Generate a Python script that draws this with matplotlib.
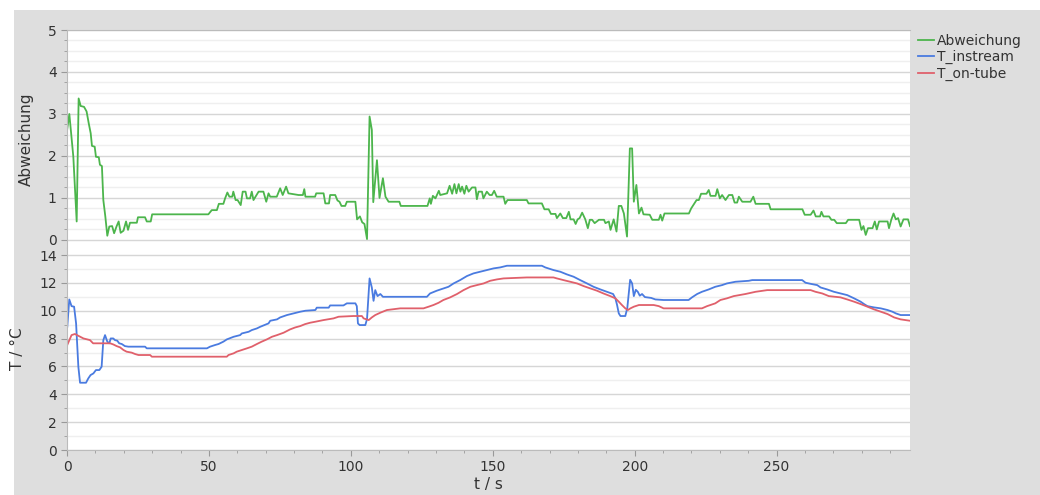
import matplotlib
matplotlib.use("Agg")
import matplotlib.pyplot as plt
from matplotlib.patches import Rectangle
from matplotlib.ticker import MultipleLocator

# ---- data ----
t_abw = [0.0, 0.82, 2.23, 3.41, 4.1, 4.82, 6.0, 6.9, 7.65, 8.35, 8.8, 9.76, 10.2, 11.2, 11.6, 12.3,
         12.8, 13.5, 14.2, 14.9, 15.9, 16.6, 17.5, 18.2, 18.9, 19.9, 20.8, 21.5, 22.2, 24.6, 25.0,
         27.5, 28.1, 29.5, 30.0, 49.8, 51.0, 52.8, 53.5, 55.1, 55.7, 56.5, 57.2, 58.2, 58.6, 59.4,
         60.1, 61.2, 61.9, 62.9, 63.4, 64.5, 65.1, 65.7, 67.5, 69.2, 70.2, 71.0, 71.6, 73.9, 75.1,
         76.0, 77.2, 78.0, 81.6, 83.1, 83.6, 84.0, 87.4, 87.8, 90.4, 91.0, 92.3, 92.7, 94.5, 95.3,
         96.0, 96.7, 98.0, 98.6, 101.6, 102.2, 103.2, 104.0, 104.8, 105.7, 106.6, 107.4, 107.9,
         109.2, 110.1, 111.3, 112.2, 113.3, 117.1, 117.6, 127.0, 127.8, 128.2, 128.9, 129.8, 131.0,
         131.5, 133.9, 134.8, 135.7, 136.5, 137.2, 138.0, 138.6, 139.2, 140.0, 140.7, 141.5, 142.7,
         143.9, 144.4, 145.0, 146.2, 146.7, 147.9, 148.9, 149.7, 150.5, 151.4, 153.8, 154.4, 155.2,
         162.0, 162.6, 167.3, 168.2, 169.7, 170.5, 172.1, 172.6, 173.8, 174.7, 175.9, 176.8, 177.4,
         178.5, 179.2, 179.9, 180.6, 181.5, 182.6, 183.5, 184.2, 185.0, 185.9, 187.4, 189.2, 189.7,
         190.9, 191.5, 192.6, 193.6, 194.4, 195.3, 196.2, 197.3, 198.3, 199.1, 199.7, 200.6, 201.5,
         202.4, 203.1, 205.3, 206.2, 208.5, 209.1, 209.7, 210.5, 219.1, 219.9, 221.8, 222.6, 223.4,
         225.3, 226.1, 226.7, 228.5, 229.1, 230.0, 230.8, 232.0, 233.2, 234.4, 235.2, 236.1, 236.7,
         237.9, 240.8, 241.8, 242.6, 247.3, 247.9, 259.1, 259.9, 262.0, 263.0, 263.8, 265.3, 265.8,
         266.5, 268.5, 269.3, 270.3, 271.2, 274.4, 275.2, 279.1, 279.9, 280.6, 281.4, 282.2, 283.8,
         284.6, 285.3, 286.1, 289.1, 289.6, 290.4, 291.2, 292.0, 292.8, 293.7, 294.7, 296.3, 297.0]
abweichung = [2.6, 3.0, 1.98, 0.44, 3.37, 3.19, 3.17, 3.06, 2.78, 2.54, 2.24, 2.22, 1.98, 1.97, 1.79, 1.76,
              0.95, 0.56, 0.10, 0.32, 0.33, 0.16, 0.33, 0.44, 0.17, 0.22, 0.44, 0.24, 0.41, 0.41, 0.54,
              0.54, 0.44, 0.44, 0.61, 0.61, 0.71, 0.71, 0.86, 0.86, 0.99, 1.13, 1.03, 1.03, 1.15, 0.95,
              0.95, 0.83, 1.15, 1.15, 0.99, 0.99, 1.15, 0.95, 1.15, 1.15, 0.91, 1.11, 1.03, 1.03, 1.23,
              1.07, 1.27, 1.11, 1.07, 1.07, 1.21, 1.03, 1.03, 1.11, 1.11, 0.87, 0.87, 1.07, 1.07, 0.94,
              0.91, 0.81, 0.81, 0.91, 0.91, 0.49, 0.56, 0.42, 0.38, 0.02, 2.94, 2.62, 0.90,
              1.90, 1.00, 1.47, 1.03, 0.91, 0.91, 0.81, 0.81, 0.99, 0.86, 1.05, 0.99, 1.17,
              1.07, 1.11, 1.29, 1.10, 1.33, 1.11, 1.33, 1.15, 1.27, 1.10, 1.29, 1.15, 1.25,
              1.25, 0.97, 1.15, 1.15, 0.99, 1.15, 1.07, 1.07, 1.17, 1.03, 1.03, 0.86, 0.95,
              0.95, 0.87, 0.87, 0.73, 0.73, 0.62, 0.62, 0.52, 0.63, 0.52, 0.52, 0.67, 0.49,
              0.49, 0.38, 0.49, 0.52, 0.65, 0.49, 0.28, 0.48, 0.48, 0.40, 0.48, 0.48, 0.40,
              0.44, 0.24, 0.49, 0.20, 0.81, 0.81, 0.63, 0.08, 2.18, 2.18, 0.91, 1.31, 0.63,
              0.77, 0.61, 0.60, 0.48, 0.48, 0.60, 0.46, 0.63, 0.63, 0.75, 0.95, 0.95, 1.10,
              1.10, 1.19, 1.05, 1.05, 1.21, 0.99, 1.07, 0.95, 1.07, 1.07, 0.89, 0.89, 1.03,
              0.91, 0.91, 1.03, 0.86, 0.86, 0.73, 0.73, 0.60, 0.60, 0.70, 0.56, 0.56, 0.67,
              0.56, 0.56, 0.48, 0.48, 0.40, 0.40, 0.48, 0.48, 0.24, 0.33, 0.12, 0.28, 0.28,
              0.44, 0.25, 0.44, 0.44, 0.28, 0.48, 0.63, 0.49, 0.52, 0.32, 0.49, 0.49, 0.33]

t_in = [0.1, 0.8, 1.6, 2.5, 3.2, 4.0, 4.6, 6.7, 7.5, 8.3, 9.3, 10.2, 11.4, 12.2, 12.8, 13.4, 14.2,
        14.9, 15.4, 16.3, 16.9, 17.7, 18.4, 19.3, 20.4, 21.6, 27.5, 28.1, 49.3, 50.4, 52.2, 53.4,
        55.1, 56.3, 58.7, 61.0, 61.6, 64.0, 65.1, 66.9, 68.1, 71.0, 71.6, 74.0, 75.1, 77.5, 79.8,
        82.2, 84.0, 87.5, 88.0, 92.2, 92.7, 97.4, 98.6, 101.6, 102.1, 102.5, 103.1, 105.1, 105.7,
        106.6, 107.4, 108.0, 108.6, 109.4, 110.4, 111.3, 126.8, 127.9, 130.3, 132.6, 134.4, 136.2,
        138.5, 140.9, 143.2, 145.6, 147.9, 150.3, 152.6, 155.0, 167.3, 168.5, 171.4, 173.8, 176.1,
        178.5, 180.8, 183.2, 185.5, 187.9, 190.2, 192.4, 193.2, 193.8, 194.4, 195.0, 196.7, 197.4,
        198.4, 199.1, 199.7, 200.4, 201.1, 201.8, 202.6, 203.6, 205.8, 207.3, 210.2, 219.0, 220.2,
        222.0, 223.7, 226.1, 228.4, 230.8, 232.5, 235.5, 240.2, 241.4, 259.0, 260.2, 262.5, 264.3,
        265.5, 267.8, 270.2, 272.5, 274.9, 277.3, 279.6, 280.8, 282.0, 284.3, 286.7, 289.1, 290.8,
        292.0, 293.7, 297.0]
t_instream = [8.85, 10.81, 10.33, 10.29, 9.09, 5.98, 4.83, 4.83, 5.14, 5.38, 5.50, 5.74, 5.74, 5.98, 7.89, 8.25, 7.78,
              7.66, 8.01, 8.01, 7.89, 7.85, 7.66, 7.61, 7.46, 7.42, 7.42, 7.30, 7.30, 7.42, 7.54, 7.61,
              7.78, 7.94, 8.13, 8.25, 8.37, 8.49, 8.61, 8.73, 8.85, 9.09, 9.28, 9.38, 9.52, 9.69, 9.81,
              9.93, 10.00, 10.05, 10.22, 10.22, 10.38, 10.38, 10.53, 10.53, 10.33, 9.09, 8.97, 8.97, 9.40,
              12.32, 11.66, 10.71, 11.48, 11.05, 11.20, 11.00, 11.00, 11.24, 11.44, 11.60, 11.72, 11.96,
              12.20, 12.49, 12.68, 12.80, 12.92, 13.04, 13.11, 13.23, 13.23, 13.11, 12.92, 12.80, 12.61,
              12.44, 12.20, 11.96, 11.72, 11.53, 11.36, 11.20, 10.89, 10.41, 9.81, 9.62, 9.62, 10.20,
              12.22, 11.96, 11.05, 11.50, 11.36, 11.08, 11.20, 10.98, 10.92, 10.81, 10.77, 10.77, 10.96,
              11.20, 11.36, 11.53, 11.72, 11.84, 11.96, 12.08, 12.15, 12.20, 12.20, 12.01, 11.91, 11.84,
              11.67, 11.53, 11.36, 11.24, 11.12, 10.89, 10.65, 10.48, 10.33, 10.24, 10.17, 10.05, 9.93,
              9.81, 9.69, 9.69]

t_on = [0.0, 1.6, 2.8, 4.0, 5.8, 8.1, 9.2, 15.2, 16.3, 17.5, 18.7, 19.9, 21.0, 22.8, 24.0, 25.2, 29.3,
        29.9, 56.3, 56.9, 58.7, 59.8, 61.6, 63.4, 65.1, 66.9, 68.6, 70.4, 72.2, 74.0, 76.3, 78.6,
        80.4, 82.2, 83.9, 85.7, 87.5, 90.4, 93.9, 95.7, 100.9, 103.9, 104.5, 106.3, 107.4, 108.6,
        110.4, 112.7, 117.4, 125.6, 127.4, 129.1, 130.9, 132.6, 135.0, 137.4, 139.7, 142.1, 144.4,
        146.8, 149.1, 151.5, 153.8, 162.0, 171.4, 172.6, 174.9, 177.3, 179.7, 182.0, 184.4, 186.7,
        189.0, 191.4, 193.2, 194.4, 195.5, 196.7, 197.6, 198.5, 199.7, 201.5, 206.7, 208.5, 210.2,
        223.7, 225.5, 228.4, 230.2, 232.5, 234.9, 239.0, 242.6, 246.7, 262.0, 263.7, 266.1, 268.4,
        272.5, 274.9, 277.3, 279.6, 282.0, 284.3, 286.7, 289.1, 291.4, 293.7, 297.0]
t_on_tube = [7.50, 8.25, 8.33, 8.20, 8.01, 7.89, 7.66, 7.66, 7.58, 7.46, 7.37, 7.18, 7.06, 6.99, 6.89, 6.82, 6.82,
             6.70, 6.70, 6.82, 6.94, 7.06, 7.18, 7.30, 7.42, 7.61, 7.78, 7.94, 8.13, 8.25, 8.42, 8.66,
             8.80, 8.90, 9.04, 9.14, 9.21, 9.33, 9.45, 9.57, 9.62, 9.62, 9.45, 9.33, 9.52, 9.69,
             9.86, 10.05, 10.17, 10.17, 10.29, 10.41, 10.57, 10.77, 10.96, 11.20, 11.48, 11.72, 11.84,
             11.96, 12.15, 12.25, 12.32, 12.39, 12.39, 12.32, 12.20, 12.08, 11.96, 11.77, 11.60, 11.44,
             11.24, 11.05, 10.89, 10.65, 10.41, 10.17, 10.05, 10.17, 10.29, 10.41, 10.41, 10.33, 10.17,
             10.17, 10.33, 10.53, 10.77, 10.89, 11.05, 11.20, 11.36, 11.48, 11.48, 11.36, 11.24, 11.05,
             10.96, 10.81, 10.65, 10.48, 10.29, 10.10, 9.93, 9.76, 9.52, 9.38, 9.28]

series_names = ["Abweichung", "T_instream", "T_on-tube"]
colors = ["#4cb54c", "#4a7be0", "#e0606b"]

# ---- figure ----
W, H = 1040, 495
fig = plt.figure(figsize=(W / 100, H / 100), dpi=100)
fig.patch.set_facecolor("white")
fig.add_artist(Rectangle((14 / W, 0), 1 - 14 / W, 1 - 10 / H, transform=fig.transFigure,
                         facecolor="#dedede", edgecolor="none", zorder=-10))

left, right = 67 / W, 910 / W
ax1 = fig.add_axes([left, 0.5, right - left, (247.5 - 30) / H])
ax2 = fig.add_axes([left, 1 - 450 / H, right - left, (450 - 247.5) / H])

tick_col = "#999999"
text_col = "#333333"
for ax in (ax1, ax2):
    ax.set_facecolor("white")
    for s in ax.spines.values():
        s.set_color("#bbbbbb")
        s.set_linewidth(0.8)
    ax.spines["top"].set_visible(False)
    ax.spines["right"].set_visible(False)
    ax.spines["bottom"].set_visible(False)
    ax.set_xlim(0, 297)
    ax.tick_params(axis="both", which="major", colors=tick_col, labelcolor=text_col,
                   labelsize=10, length=4, width=0.8)
    ax.tick_params(axis="both", which="minor", colors=tick_col, length=2, width=0.6)
    ax.set_axisbelow(True)

ax2.spines["bottom"].set_visible(True)
ax1.spines["top"].set_visible(True)

# top axes
ax1.plot(t_abw, abweichung, color=colors[0], lw=1.3, label=series_names[0])
ax1.set_ylim(-0.18, 5)
ax1.yaxis.set_major_locator(MultipleLocator(1))
ax1.yaxis.set_minor_locator(MultipleLocator(0.25))
ax1.grid(True, which="major", axis="y", color="#d6d6d6", lw=1.0)
ax1.grid(True, which="minor", axis="y", color="#efefef", lw=1.0)
ax1.tick_params(axis="x", which="both", bottom=False, labelbottom=False)
ax1.set_ylabel("Abweichung", fontsize=11, color=text_col, labelpad=10)

# bottom axes
ax2.plot(t_in, t_instream, color=colors[1], lw=1.3, label=series_names[1])
ax2.plot(t_on, t_on_tube, color=colors[2], lw=1.3, label=series_names[2])
ax2.set_ylim(0, 14.54)
ax2.yaxis.set_major_locator(MultipleLocator(2))
ax2.yaxis.set_minor_locator(MultipleLocator(1))
ax2.xaxis.set_major_locator(MultipleLocator(50))
ax2.xaxis.set_minor_locator(MultipleLocator(10))
ax2.grid(True, which="major", axis="y", color="#d6d6d6", lw=1.0)
ax2.grid(True, which="minor", axis="y", color="#efefef", lw=1.0)
ax2.set_xlabel("t / s", fontsize=11, color=text_col, labelpad=2)
ax2.set_ylabel("T / °C", fontsize=11, color=text_col, labelpad=10)

fig.align_ylabels([ax1, ax2])

handles = ax1.get_lines() + ax2.get_lines()
fig.legend(handles, series_names, loc="upper left", bbox_to_anchor=(912 / W, 1 - 28 / H),
           frameon=False, fontsize=10, handlelength=1.2, handletextpad=0.2,
           labelspacing=0.2, borderaxespad=0, labelcolor=text_col)

fig.savefig("out.png", dpi=100)
